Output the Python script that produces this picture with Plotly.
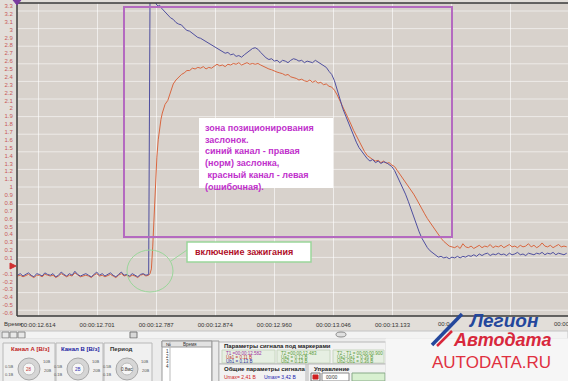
import plotly.graph_objects as go

# ---------------- data ----------------
time_s = [
    12.584, 12.588, 12.592, 12.596, 12.600, 12.604, 12.608, 12.612, 12.616, 12.620,
    12.624, 12.628, 12.632, 12.636, 12.640, 12.644, 12.648, 12.652, 12.656, 12.660,
    12.664, 12.668, 12.672, 12.676, 12.680, 12.684, 12.688, 12.692, 12.696, 12.700,
    12.704, 12.708, 12.712, 12.716, 12.720, 12.724, 12.728, 12.732, 12.736, 12.740,
    12.744, 12.748, 12.752, 12.756, 12.760, 12.764, 12.768, 12.772, 12.776,
    12.778, 12.780, 12.782, 12.784, 12.786, 12.788, 12.790, 12.792, 12.794, 12.796,
    12.798, 12.800,
    12.804, 12.808, 12.812, 12.816, 12.820, 12.824, 12.828, 12.832, 12.836, 12.840,
    12.844, 12.848, 12.852, 12.856, 12.860, 12.864, 12.868, 12.872, 12.876, 12.880,
    12.884, 12.888, 12.892, 12.896, 12.900, 12.904, 12.908, 12.912, 12.916, 12.920,
    12.924, 12.928, 12.932, 12.936, 12.940, 12.944, 12.948, 12.952, 12.956, 12.960,
    12.964, 12.968, 12.972, 12.976, 12.980, 12.984, 12.988, 12.992, 12.996, 13.000,
    13.004, 13.008, 13.012, 13.016, 13.020, 13.024, 13.028, 13.032, 13.036, 13.040,
    13.044, 13.048, 13.052, 13.056, 13.060, 13.064, 13.068, 13.072, 13.076, 13.080,
    13.084, 13.088, 13.092, 13.096, 13.100, 13.104, 13.108, 13.112, 13.116, 13.120,
    13.124, 13.128, 13.132, 13.136, 13.140, 13.144, 13.148, 13.152, 13.156, 13.160,
    13.164, 13.168, 13.172, 13.176, 13.180, 13.184, 13.188, 13.192, 13.196, 13.200,
    13.204, 13.208, 13.212, 13.216, 13.220, 13.224, 13.228, 13.232, 13.236, 13.240,
    13.244, 13.248, 13.252, 13.256, 13.260, 13.264, 13.268, 13.272, 13.276, 13.280,
    13.284, 13.288, 13.292, 13.296, 13.300, 13.304, 13.308, 13.312, 13.316, 13.320,
    13.324, 13.328, 13.332, 13.336, 13.340, 13.344, 13.348, 13.352, 13.356, 13.360,
    13.364, 13.368, 13.372, 13.376, 13.380, 13.384, 13.388,
]

# Channel A (red) - left throttle
ch_a_volts = [
    -0.13, -0.12, -0.14, -0.12, -0.11, -0.13, -0.15, -0.12, -0.12, -0.14,
    -0.11, -0.12, -0.13, -0.12, -0.15, -0.13, -0.10, -0.12, -0.14, -0.12,
    -0.13, -0.09, -0.12, -0.14, -0.13, -0.12, -0.13, -0.15, -0.12, -0.10,
    -0.13, -0.12, -0.14, -0.12, -0.11, -0.13, -0.15, -0.12, -0.10, -0.13,
    -0.12, -0.14, -0.12, -0.13, -0.15, -0.12, -0.11, -0.13, -0.12,
    -0.10, -0.04, 0.25, 0.65, 1.05, 1.38, 1.60, 1.75, 1.86, 1.94,
    2.00, 2.05,
    2.10, 2.20, 2.31, 2.36, 2.40, 2.43, 2.45, 2.48, 2.48, 2.51,
    2.50, 2.52, 2.51, 2.53, 2.50, 2.52, 2.51, 2.54, 2.56, 2.54,
    2.55, 2.53, 2.56, 2.55, 2.57, 2.56, 2.58, 2.55, 2.57, 2.58,
    2.56, 2.57, 2.56, 2.57, 2.55, 2.53, 2.52, 2.50, 2.49, 2.47,
    2.46, 2.45, 2.44, 2.42, 2.43, 2.40, 2.39, 2.38, 2.36, 2.37,
    2.35, 2.34, 2.36, 2.33, 2.35, 2.32, 2.33, 2.30, 2.31, 2.28,
    2.27, 2.23, 2.17, 2.10, 2.02, 1.95, 1.88, 1.80, 1.72, 1.65,
    1.58, 1.51, 1.45, 1.40, 1.37, 1.35, 1.33, 1.34, 1.31, 1.33,
    1.30, 1.31, 1.28, 1.26, 1.21, 1.16, 1.11, 1.06, 1.02, 0.97,
    0.91, 0.85, 0.78, 0.72, 0.66, 0.60, 0.55, 0.49, 0.44, 0.39,
    0.35, 0.31, 0.28, 0.25, 0.24, 0.23, 0.25, 0.22, 0.28, 0.24,
    0.23, 0.25, 0.22, 0.24, 0.26, 0.23, 0.25, 0.24, 0.27, 0.23,
    0.25, 0.24, 0.26, 0.23, 0.25, 0.27, 0.24, 0.25, 0.23, 0.26,
    0.24, 0.25, 0.28, 0.24, 0.26, 0.23, 0.25, 0.29, 0.25, 0.24,
    0.26, 0.23, 0.25, 0.27, 0.24, 0.25, 0.24,
]

# Channel B (blue) - right throttle
ch_b_volts = [
    -0.12, -0.10, -0.13, -0.11, -0.09, -0.12, -0.14, -0.10, -0.11, -0.13,
    -0.09, -0.11, -0.12, -0.10, -0.14, -0.12, -0.08, -0.11, -0.13, -0.10,
    -0.12, -0.07, -0.11, -0.13, -0.12, -0.10, -0.12, -0.14, -0.11, -0.08,
    -0.12, -0.10, -0.13, -0.11, -0.09, -0.12, -0.14, -0.11, -0.08, -0.12,
    -0.11, -0.13, -0.10, -0.12, -0.14, -0.11, -0.10, -0.12, -0.11,
    3.45, 3.45, 3.42, 3.38, 3.34, 3.31, 3.30, 3.31, 3.28, 3.26,
    3.24, 3.22,
    3.19, 3.15, 3.13, 3.09, 3.07, 3.06, 3.02, 2.99, 2.98, 2.95,
    2.93, 2.90, 2.89, 2.87, 2.85, 2.82, 2.81, 2.78, 2.76, 2.74,
    2.73, 2.70, 2.71, 2.68, 2.69, 2.66, 2.67, 2.65, 2.68, 2.71,
    2.74, 2.76, 2.77, 2.75, 2.71, 2.67, 2.64, 2.62, 2.63, 2.60,
    2.61, 2.58, 2.61, 2.60, 2.58, 2.61, 2.63, 2.62, 2.60, 2.61,
    2.58, 2.60, 2.59, 2.58, 2.61, 2.59, 2.56, 2.54, 2.52, 2.47,
    2.43, 2.35, 2.22, 2.12, 2.00, 1.91, 1.83, 1.73, 1.64, 1.57,
    1.50, 1.45, 1.40, 1.36, 1.33, 1.35, 1.31, 1.33, 1.30, 1.32,
    1.31, 1.29, 1.26, 1.21, 1.14, 1.07, 0.99, 0.91, 0.82, 0.72,
    0.62, 0.53, 0.43, 0.35, 0.28, 0.23, 0.19, 0.16, 0.13, 0.11,
    0.12, 0.10, 0.11, 0.09, 0.11, 0.10, 0.12, 0.10, 0.12, 0.11,
    0.13, 0.12, 0.14, 0.12, 0.15, 0.13, 0.15, 0.16, 0.13, 0.15,
    0.14, 0.16, 0.14, 0.15, 0.13, 0.16, 0.14, 0.15, 0.17, 0.14,
    0.15, 0.13, 0.16, 0.15, 0.14, 0.16, 0.15, 0.17, 0.14, 0.16,
    0.15, 0.17, 0.14, 0.16, 0.15, 0.14, 0.16,
]

y_tick_vals = [3.3, 3.2, 3.1, 3.0, 2.9, 2.8, 2.7, 2.6, 2.5, 2.4, 2.3, 2.2, 2.1, 2.0,
               1.9, 1.8, 1.7, 1.6, 1.5, 1.4, 1.3, 1.2, 1.1, 1.0, 0.9, 0.8, 0.7, 0.6,
               0.5, 0.4, 0.3, 0.2, 0.1, 0.0, -0.1, -0.2, -0.3, -0.4, -0.5, -0.6]
y_tick_text = ["3.3", "3.2", "3.1", "3", "2.9", "2.8", "2.7", "2.6", "2.5", "2.4", "2.3",
               "2.2", "2.1", "2", "1.9", "1.8", "1.7", "1.6", "1.5", "1.4", "1.3", "1.2",
               "1.1", "1", "0.9", "0.8", "0.7", "0.6", "0.5", "0.4", "0.3", "0.2", "0.1",
               "", "-0.1", "-0.2", "-0.3", "-0.4", "-0.5", "-0.6"]
# the last two labels sit under the logo in the reference; only fragments are visible
x_tick_vals = [12.614, 12.7005, 12.787, 12.8735, 12.960, 13.0465, 13.133, 13.2195, 13.306]
x_tick_text = ["00:00:12.614", "00:00:12.701", "00:00:12.787", "00:00:12.874",
               "00:00:12.960", "00:00:13.046", "00:00:13.133", "", ""]
x_tick_fragments = ["00:0", "00:00"]

zone_text = ["зона позиционирования", "заслонок.", "синий канал - правая",
             "(норм) заслонка,", " красный канал - левая", "(ошибочная)."]
ignition_text = "включение зажигания"

# ---------------- layout helpers (pixel -> paper) ----------------
W, H = 568, 381
L, T, PW, PH = 17, 3, 551, 313


def fx(x):
    return (x - L) / PW


def fy(y):
    return 1 - (y - T) / PH


shapes = []
annotations = []


def rect(x0, y0, x1, y1, fill="rgba(0,0,0,0)", line="rgba(0,0,0,0)", lw=1, layer="above", kind="rect"):
    shapes.append(dict(type=kind, xref="paper", yref="paper", x0=fx(x0), x1=fx(x1),
                       y0=fy(y1), y1=fy(y0), fillcolor=fill,
                       line=dict(color=line, width=lw), layer=layer))


def seg(x0, y0, x1, y1, color, lw=1, layer="above"):
    shapes.append(dict(type="line", xref="paper", yref="paper", x0=fx(x0), x1=fx(x1),
                       y0=fy(y0), y1=fy(y1), line=dict(color=color, width=lw), layer=layer))


def txt(x, y, s, size=6, color="#333", anchor="left", family="Liberation Sans, Arial"):
    annotations.append(dict(x=fx(x), y=fy(y), xref="paper", yref="paper", text=s,
                            showarrow=False, xanchor=anchor, yanchor="middle",
                            font=dict(size=size, color=color, family=family)))


# faint pixel grid (horizontal)
for k in range(18):
    seg(L, 11 + 17.6 * k, W, 11 + 17.6 * k, "rgba(255,255,255,0.55)", 1, layer="below")

# plot frame
seg(L, T, W, T, "#3a3a3a", 1.5)
seg(L, T, L, 316, "#3a3a3a", 1.5)
seg(L, 316, W, 316, "#3a3a3a", 1.5)

# purple positioning zone
rect(124, 7, 452, 237, line="#b46ac0", lw=2)
# annotation box
rect(199, 118, 333, 188, fill="white")
annotations.append(dict(x=fx(203), y=fy(121), xref="paper", yref="paper",
                        text="<br>".join("<b>%s</b>" % s for s in zone_text),
                        showarrow=False, xanchor="left", yanchor="top", align="left",
                        font=dict(size=9, color="#c030cc", family="Liberation Sans, Arial")))
# ignition box + circle
rect(187, 242, 311, 262, fill="white", line="#9ad69a", lw=1.5)
txt(244, 252, "<b>%s</b>" % ignition_text, 9, "#b0102a", "center")
rect(127, 250, 173, 292, line="#9ad69a", lw=1, kind="circle")
seg(171, 261, 187, 250, "#9ad69a", 1)

# markers on axis
shapes.append(dict(type="path", xref="paper", yref="paper",
                   path="M %f,%f L %f,%f L %f,%f Z" % (fx(10), fy(263), fx(16), fy(266), fx(10), fy(269)),
                   fillcolor="#d03030", line=dict(color="#d03030", width=1)))
shapes.append(dict(type="path", xref="paper", yref="paper",
                   path="M %f,%f L %f,%f L %f,%f Z" % (fx(13), fy(0), fx(21), fy(0), fx(17), fy(5)),
                   fillcolor="#7a3aa0", line=dict(color="#7a3aa0", width=1)))

# ---------------- bottom UI panel ----------------
txt(2, 324, "Время", 6, "#333")
txt(436, 324, x_tick_fragments[0], 6, "#333")
txt(552, 324, x_tick_fragments[1], 6, "#333")
rect(0, 331, W, 339, fill="#f3f3f3", line="#c4c4c4")
for bx in (2, 10, 18):
    rect(bx, 332, bx + 7, 338, fill="#e8e8e8", line="#888")
rect(130, 332, 137, 338, fill="#d8d8d8", line="#777")
rect(336, 332, 346, 337, fill="#e0e0e0", line="#888", kind="circle")
rect(0, 339, W, H, fill="#ececec", line="#ececec")

# channel groups
for (x0, x1) in ((3, 55), (56, 103), (104, 152)):
    rect(x0, 343, x1, 383, fill="#f0f0f0", line="#b8b8b8")
txt(30, 349, "<b>Канал А [В/з]</b>", 6, "#c02020", "center")
txt(80, 349, "<b>Канал В [В/з]</b>", 6, "#2020a0", "center")
txt(108, 349, "<b>Период</b>", 6, "#333")
for cx, col, lab in ((29, "#c03030", "28"), (78, "#3030b0", "2В"), (127, "#333", "0.8мс")):
    rect(cx - 11, 358, cx + 11, 380, fill="#d6d6d6", line="#a8a8a8", kind="circle")
    rect(cx - 6, 363, cx + 6, 375, fill="#f6f6f6", line="#bbb", kind="circle")
    txt(cx, 369, lab, 4.5, col, "center")
    txt(cx - 13, 366, "0.5В", 4, "#555", "right")
    txt(cx - 13, 374, "0.1В", 4, "#555", "right")
    txt(cx + 12, 361, "10В", 4, "#555", "left")
    txt(cx + 13, 370, "20В", 4, "#555", "left")

# table
rect(162, 341, 212, 383, fill="white", line="#999")
rect(162, 341, 212, 347, fill="#e2e2e2", line="#999")
seg(170, 341, 170, 383, "#bbb")
txt(164, 344, "№", 4.5, "#333")
txt(190, 344, "Время", 4.5, "#333", "center")
for i, yy in enumerate((351, 356, 361, 366)):
    txt(164, yy, str(i + 1), 4.5, "#333")
rect(212, 341, 219, 383, fill="#eaeaea", line="#999")

# marker parameters
rect(219, 342, 386, 364, fill="#f2f2f2", line="#b8b8b8")
txt(222, 346, "<b>Параметры сигнала под маркерами</b>", 6, "#222")
rect(222, 350, 275, 363, fill="#e6efe2", line="#c8d6c0")
rect(277, 350, 330, 363, fill="#e6efe2", line="#c8d6c0")
rect(333, 350, 384, 363, fill="#e6efe2", line="#c8d6c0")
txt(224, 353, "T1 =00:00:12.582", 4.5, "#a030a0")
txt(224, 357.5, "Ua1 = 0.11 В", 4.5, "#c03030")
txt(224, 361.5, "Ub1 = 0.13 В", 4.5, "#3030a0")
txt(279, 353, "T2 =00:00:12.483", 4.5, "#5a9a3a")
txt(279, 357.5, "Ua2 = 0.12 В", 4.5, "#5a9a3a")
txt(279, 361.5, "Ub2 = 0.13 В", 4.5, "#5a9a3a")
txt(335, 353, "T2 - T1 = 00:00:00.900", 4.5, "#5a9a3a")
txt(335, 357.5, "Ua2-Ua1 = 0.36 В", 4.5, "#5a9a3a")
txt(335, 361.5, "Ub2-Ub1 = 0.36 В", 4.5, "#5a9a3a")

rect(219, 364, 306, 383, fill="#f2f2f2", line="#b8b8b8")
txt(222, 369, "<b>Общие параметры сигнала</b>", 6, "#222")
txt(222, 377, "Umax= 2,41 В", 5, "#d02020")
txt(262, 377, "Umax= 3,42 В", 5, "#2020b0")
rect(308, 364, 386, 383, fill="#f2f2f2", line="#b8b8b8")
txt(312, 369, "<b>Управление</b>", 6, "#222")
rect(311, 373, 320, 381, fill="#f0f0f0", line="#777")
rect(313, 375, 318, 379, fill="#d02020", line="#d02020")
rect(322, 373, 349, 381, fill="white", line="#888")
txt(324, 377, "00/00", 4.5, "#333")
rect(352, 373, 385, 381, fill="#d8f0d0", line="#8a8")

# logo
rect(386, 339, W, H, fill="#f6f6f6", line="#f6f6f6")
seg(432, 345, 462, 314, "#24479c", 3.5)
seg(437, 346, 452, 331, "#d8283c", 2.5)
txt(503, 320, "<b><i>Легион</i></b>", 19, "#24479c", "center")
txt(502, 340, "<b><i>Автодата</i></b>", 18, "#d8283c", "center")
txt(492, 362, "AUTODATA.RU", 17, "#e0303f", "center")

# ---------------- figure ----------------
fig = go.Figure()
fig.add_trace(go.Scatter(x=time_s, y=ch_a_volts, mode="lines", name="Канал А",
                         line=dict(color="#d9663f", width=1)))
fig.add_trace(go.Scatter(x=time_s, y=ch_b_volts, mode="lines", name="Канал В",
                         line=dict(color="#4f4f9f", width=1)))

fig.update_layout(
    width=W, height=H,
    margin=dict(l=L, r=0, t=T, b=H - 316, pad=0),
    paper_bgcolor="#e2ded9",
    plot_bgcolor="#d8d2cc",
    showlegend=False,
    font=dict(family="Liberation Sans, Arial", size=6, color="#333"),
    xaxis=dict(range=[12.58326, 13.38988], tickvals=x_tick_vals, ticktext=x_tick_text,
               showgrid=True, gridcolor="rgba(255,255,255,0.6)", gridwidth=1,
               zeroline=False, showline=False, ticks="outside", ticklen=3,
               tickcolor="rgba(0,0,0,0)", tickfont=dict(size=6, color="#333")),
    yaxis=dict(range=[-0.638, 3.338], tickvals=y_tick_vals, ticktext=y_tick_text,
               showgrid=False, zeroline=False, showline=False, ticks="outside",
               ticklen=2, tickcolor="rgba(0,0,0,0)",
               tickfont=dict(size=6, color="#c85a5a")),
    shapes=shapes,
    annotations=annotations,
)

fig.write_html("out.html", config=dict(displayModeBar=False))
